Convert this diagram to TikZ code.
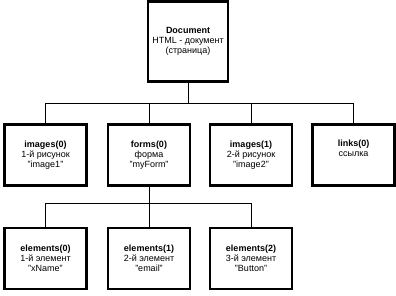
\documentclass[tikz,border=0pt]{standalone}
\usepackage{fontspec}
\setmainfont{Liberation Sans}
\usetikzlibrary{positioning,calc}

\begin{document}
\begin{tikzpicture}[
  x=1pt,y=-1pt,
  every node/.style={font=\fontsize{9}{10}\selectfont,align=center,inner sep=0pt},
  obj/.style={draw,line width=2.5pt,minimum width=82pt,minimum height=61pt},
  root/.style={obj,minimum width=80pt,minimum height=80pt},
  link/.style={draw,line width=0.9pt}
]
\useasboundingbox (0,0) rectangle (396,295);
\node[root] (doc) at (188,41.5) {\textbf{Document}\\HTML - документ\\(страница)};
\node[obj] (img0) at (45.5,155) {\textbf{images(0)}\\1-й рисунок\\"image1"};
\node[obj] (form0) at (149,155) {\textbf{forms(0)}\\форма\\"myForm"};
\node[obj] (img1) at (251,155) {\textbf{images(1)}\\2-й рисунок\\"image2"};
\node[obj] (link0) at (353.5,155) {\textbf{links(0)}\\ссылка\\\strut};
\node[obj] (el0) at (45.5,258.5) {\textbf{elements(0)}\\1-й элемент\\"xName"};
\node[obj] (el1) at (149,258.5) {\textbf{elements(1)}\\2-й элемент\\"email"};
\node[obj] (el2) at (251,258.5) {\textbf{elements(2)}\\3-й элемент\\"Button"};
\coordinate (bus1) at ($(doc.south)+(0,21)$);
\coordinate (bus2) at ($(form0.south)+(0,17)$);
\draw[link] (doc.south) -- (bus1);
\foreach \n in {img0,form0,img1,link0}
  \draw[link] (bus1) -| (\n.north);
\draw[link] (form0.south) -- (bus2);
\foreach \n in {el0,el1,el2}
  \draw[link] (bus2) -| (\n.north);
\end{tikzpicture}
\end{document}
